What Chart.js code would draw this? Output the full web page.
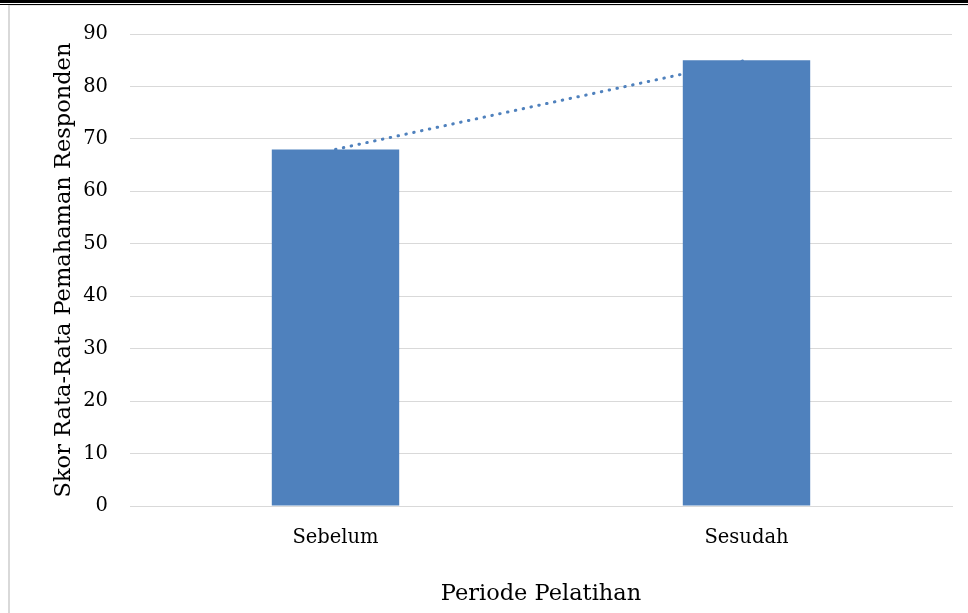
<!DOCTYPE html>
<html>
<head>
<meta charset="utf-8">
<script src="https://cdn.jsdelivr.net/npm/chart.js@4"></script>
<style>
  html, body { margin: 0; padding: 0; background: #fff; }
  body { width: 968px; height: 613px; position: relative; overflow: hidden; }
  .rule-thick { position: absolute; left: 0; top: 0; width: 968px; height: 3px; background: #000; }
  .rule-thin { position: absolute; left: 0; top: 4px; width: 968px; height: 1px; background: #000; }
  .rule-gray { position: absolute; left: 8px; top: 5px; width: 960px; height: 1px; background: #e6e6e6; }
  .side { position: absolute; left: 8px; top: 5px; width: 2px; height: 608px; background: #d9d9d9; }
  #wrap { position: absolute; left: 10px; top: 6px; width: 958px; height: 607px; }
</style>
</head>
<body>
<div class="rule-thick"></div>
<div class="rule-thin"></div>
<div class="rule-gray"></div>
<div class="side"></div>
<div id="wrap"><canvas id="chart"></canvas></div>
<script>
  const categories = ['Sebelum', 'Sesudah'];
  const scores = [68, 85];
  const trend = [68, 85];
  const yTicks = [0, 10, 20, 30, 40, 50, 60, 70, 80, 90];

  const blue = '#4f81bd';
  const fontFamily = "'DejaVu Serif', 'Liberation Serif', serif";

  new Chart(document.getElementById('chart'), {
    data: {
      labels: categories,
      datasets: [
        {
          type: 'bar',
          data: scores,
          backgroundColor: blue,
          categoryPercentage: 1,
          barPercentage: 0.31,
          order: 1
        },
        {
          type: 'line',
          data: trend,
          borderColor: blue,
          borderWidth: 3,
          borderDash: [0.5, 7.5],
          borderCapStyle: 'round',
          pointRadius: 0,
          fill: false,
          order: 2
        }
      ]
    },
    options: {
      responsive: true,
      maintainAspectRatio: false,
      animation: false,
      layout: { padding: { top: 28, right: 16, bottom: 0, left: 0 } },
      plugins: { legend: { display: false }, tooltip: { enabled: false } },
      scales: {
        x: {
          grid: { display: false, drawTicks: false },
          border: { display: true, color: '#d9d9d9' },
          ticks: { color: '#000', font: { family: fontFamily, size: 19.5 }, padding: 20 },
          title: {
            display: true,
            text: 'Periode Pelatihan',
            color: '#000',
            font: { family: fontFamily, size: 22.5 },
            padding: { top: 30, bottom: 5.5 }
          },
          afterFit: (scale) => { scale.height = 107; }
        },
        y: {
          min: 0,
          max: 90,
          afterBuildTicks: (scale) => { scale.ticks = yTicks.map((v) => ({ value: v })); },
          grid: { color: '#d9d9d9', drawTicks: false },
          border: { display: false },
          ticks: { color: '#000', font: { family: fontFamily, size: 19.5 }, padding: 22 },
          title: {
            display: true,
            text: 'Skor Rata-Rata Pemahaman Responden',
            color: '#000',
            font: { family: fontFamily, size: 22.5 },
            padding: { bottom: 0, top: 40.5 }
          },
          afterFit: (scale) => {
            scale.width = 120;
            scale.paddingTop = 0;
            scale.paddingBottom = 0;
          }
        }
      }
    }
  });
</script>
</body>
</html>
